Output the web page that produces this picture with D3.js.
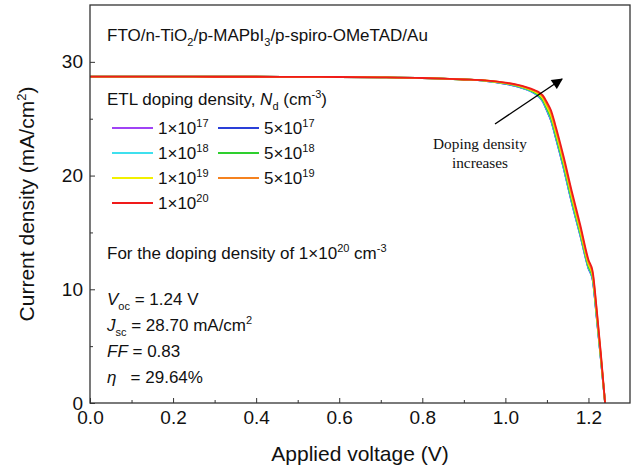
<!DOCTYPE html>
<html><head><meta charset="utf-8">
<script src="https://cdn.jsdelivr.net/npm/d3@7"></script>
<style>body{margin:0;background:#fff}svg{display:block;font-family:"Liberation Sans",Arial,sans-serif}</style>
</head><body><svg id="c" width="634" height="470"></svg>
<script>
const voltage = [0, 0.1, 0.2, 0.3, 0.4, 0.5, 0.6, 0.7, 0.8, 0.85, 0.9, 0.95, 1.0, 1.03, 1.05, 1.07, 1.08, 1.09, 1.10, 1.11, 1.12, 1.14, 1.16, 1.18, 1.20, 1.21, 1.22, 1.23, 1.24];
const flat = [28.70, 28.70, 28.70, 28.69, 28.69, 28.68, 28.67, 28.64, 28.58, 28.52, 28.45];
const jPurple = flat.concat([28.33, 28.06, 27.82, 27.58, 27.23, 26.95, 26.51, 25.70, 24.82, 23.50, 20.68, 17.58, 14.77, 11.83, 10.85, 7.45, 3.78, 0]);
const jBlue   = flat.concat([28.34, 28.07, 27.83, 27.59, 27.24, 26.97, 26.53, 25.73, 24.85, 23.53, 20.71, 17.61, 14.80, 11.86, 10.88, 7.48, 3.80, 0]);
const jCyan   = flat.concat([28.34, 28.08, 27.84, 27.60, 27.26, 26.99, 26.56, 25.77, 24.90, 23.58, 20.76, 17.66, 14.84, 11.90, 10.92, 7.52, 3.82, 0]);
const jGreen  = flat.concat([28.35, 28.10, 27.87, 27.64, 27.31, 27.06, 26.65, 25.89, 25.04, 23.73, 20.92, 17.82, 14.98, 12.00, 11.02, 7.62, 3.88, 0]);
const jYellow = flat.concat([28.36, 28.13, 27.91, 27.69, 27.39, 27.17, 26.80, 26.08, 25.27, 23.98, 21.18, 18.08, 15.20, 12.20, 11.20, 7.80, 4.00, 0]);
const jOrange = flat.concat([28.37, 28.16, 27.95, 27.74, 27.46, 27.27, 26.93, 26.27, 25.50, 24.24, 21.45, 18.35, 15.45, 12.40, 11.40, 8.00, 4.15, 0]);
const jRed    = flat.concat([28.38, 28.18, 27.98, 27.78, 27.52, 27.35, 27.05, 26.45, 25.72, 24.48, 21.70, 18.60, 15.70, 12.60, 11.60, 8.20, 4.30, 0]);

const seriesMantissa = ["1", "5", "1", "5", "1", "5", "1"];
const seriesExponent = ["17", "17", "18", "18", "19", "19", "20"];
const seriesColors = ["#a043f5", "#2a3fd8", "#3fe0ee", "#2ecf2e", "#f2f000", "#f5821f", "#f01a1a"];
const seriesValues = [jPurple, jBlue, jCyan, jGreen, jYellow, jOrange, jRed];

const xTicks = [0, 0.2, 0.4, 0.6, 0.8, 1.0, 1.2];
const xMinor = [0.1, 0.3, 0.5, 0.7, 0.9, 1.1];
const yTicks = [0, 10, 20, 30];
const yMinor = [5, 15, 25];

const svg = d3.select("#c");
const L = 90, R = 630, T = 5, B = 403;
const FS = 17, SS = 11;
const x = d3.scaleLinear().domain([0, 1.3]).range([L, R]);
const y = d3.scaleLinear().domain([0, 35]).range([B, T]);

// curves
const line = d3.line().x((d, i) => x(voltage[i])).y(d => y(d)).curve(d3.curveMonotoneX);
seriesValues.forEach((vals, k) => {
  svg.append("path").attr("d", line(vals)).attr("fill", "none")
    .attr("stroke", seriesColors[k]).attr("stroke-width", 1.8);
});

// axes
const fmt = d3.format(".1f");
const gx = svg.append("g").attr("transform", `translate(0,${B})`)
  .call(d3.axisBottom(x).tickValues(xTicks).tickSize(-5).tickPadding(8).tickFormat(fmt));
gx.select(".domain").remove();
gx.selectAll("text").attr("font-size", 19).attr("fill", "#111").attr("font-family", null);
gx.selectAll("line").attr("stroke", "#333");
const gxm = svg.append("g").attr("transform", `translate(0,${B})`).call(d3.axisBottom(x).tickValues(xMinor).tickSize(-3).tickFormat(""));
gxm.select(".domain").remove(); gxm.selectAll("line").attr("stroke", "#333");

const gy = svg.append("g").attr("transform", `translate(${L},0)`)
  .call(d3.axisLeft(y).tickValues(yTicks).tickSize(-5).tickPadding(7).tickFormat(d3.format("d")));
gy.select(".domain").remove();
gy.selectAll("text").attr("font-size", 19).attr("fill", "#111").attr("font-family", null);
gy.selectAll("line").attr("stroke", "#333");
const gym = svg.append("g").attr("transform", `translate(${L},0)`).call(d3.axisLeft(y).tickValues(yMinor).tickSize(-3).tickFormat(""));
gym.select(".domain").remove(); gym.selectAll("line").attr("stroke", "#333");

svg.append("rect").attr("x", L).attr("y", T).attr("width", R - L).attr("height", B - T)
  .attr("fill", "none").attr("stroke", "#333").attr("stroke-width", 1.3);

// axis titles
svg.append("text").attr("x", (L + R) / 2).attr("y", 461).attr("text-anchor", "middle")
  .attr("font-size", 21).attr("fill", "#111").text("Applied voltage (V)");
const yt = svg.append("text").attr("transform", "translate(34,204) rotate(-90)").attr("text-anchor", "middle")
  .attr("font-size", 21).attr("fill", "#111");
yt.append("tspan").text("Current density (mA/cm");
yt.append("tspan").attr("dy", -8).attr("font-size", 13).text("2");
yt.append("tspan").attr("dy", 8).text(")");

function txt(xx, yy) {
  return svg.append("text").attr("x", xx).attr("y", yy).attr("font-size", FS).attr("fill", "#111").style("white-space", "pre");
}
function sub(t, s) { t.append("tspan").attr("dy", 5).attr("font-size", SS).text(s); }
function sup(t, s) { t.append("tspan").attr("dy", -7).attr("font-size", SS).text(s); }

// title text
const t1 = txt(107, 41);
t1.append("tspan").text("FTO/n-TiO");
sub(t1, "2");
t1.append("tspan").attr("dy", -5).text("/p-MAPbI");
sub(t1, "3");
t1.append("tspan").attr("dy", -5).text("/p-spiro-OMeTAD/Au");

const t2 = txt(107, 105);
t2.append("tspan").text("ETL doping density, ");
t2.append("tspan").attr("font-style", "italic").text("N");
sub(t2, "d");
t2.append("tspan").attr("dy", -5).text(" (cm");
sup(t2, "-3");
t2.append("tspan").attr("dy", 7).text(")");

// legend
const rowY = [128, 153, 178, 203];
seriesColors.forEach((c, k) => {
  const col = k % 2, row = Math.floor(k / 2);
  const lx = col === 0 ? 112 : 218;
  const yy = rowY[row];
  svg.append("line").attr("x1", lx).attr("x2", lx + 41).attr("y1", yy).attr("y2", yy)
    .attr("stroke", c).attr("stroke-width", 1.8);
  const tt = txt(lx + 46, yy + 6);
  tt.append("tspan").text(seriesMantissa[k] + "\u00d710");
  sup(tt, seriesExponent[k]);
});

// parameters
const t3 = txt(107, 259);
t3.append("tspan").text("For the doping density of 1\u00d710");
sup(t3, "20");
t3.append("tspan").attr("dy", 7).text(" cm");
sup(t3, "-3");

function param(yy, sym, subs, rest, sups) {
  const t = txt(107, yy);
  t.append("tspan").attr("font-style", "italic").text(sym);
  if (subs) { sub(t, subs); t.append("tspan").attr("dy", -5).text(rest); }
  else t.append("tspan").text(rest);
  if (sups) sup(t, sups);
}
param(305, "V", "oc", " = 1.24 V");
param(331, "J", "sc", " = 28.70 mA/cm", "2");
param(357, "FF", null, " = 0.83");
param(383, "\u03b7", null, "   = 29.64%");

// annotation
svg.append("defs").append("marker").attr("id", "ah").attr("viewBox", "0 0 10 10")
  .attr("refX", 9).attr("refY", 5).attr("markerWidth", 13).attr("markerHeight", 11)
  .attr("markerUnits", "userSpaceOnUse").attr("orient", "auto")
  .append("path").attr("d", "M0,0 L10,5 L0,10 z").attr("fill", "#000");
svg.append("line").attr("x1", 495).attr("y1", 124).attr("x2", 562).attr("y2", 79)
  .attr("stroke", "#000").attr("stroke-width", 1.4).attr("marker-end", "url(#ah)");
svg.append("text").attr("x", 480).attr("y", 149).attr("text-anchor", "middle").attr("fill", "#111")
  .attr("font-family", "Liberation Serif, Times New Roman, serif").attr("font-size", 15.3).text("Doping density");
svg.append("text").attr("x", 480).attr("y", 168).attr("text-anchor", "middle").attr("fill", "#111")
  .attr("font-family", "Liberation Serif, Times New Roman, serif").attr("font-size", 15.3).text("increases");
</script></body></html>
